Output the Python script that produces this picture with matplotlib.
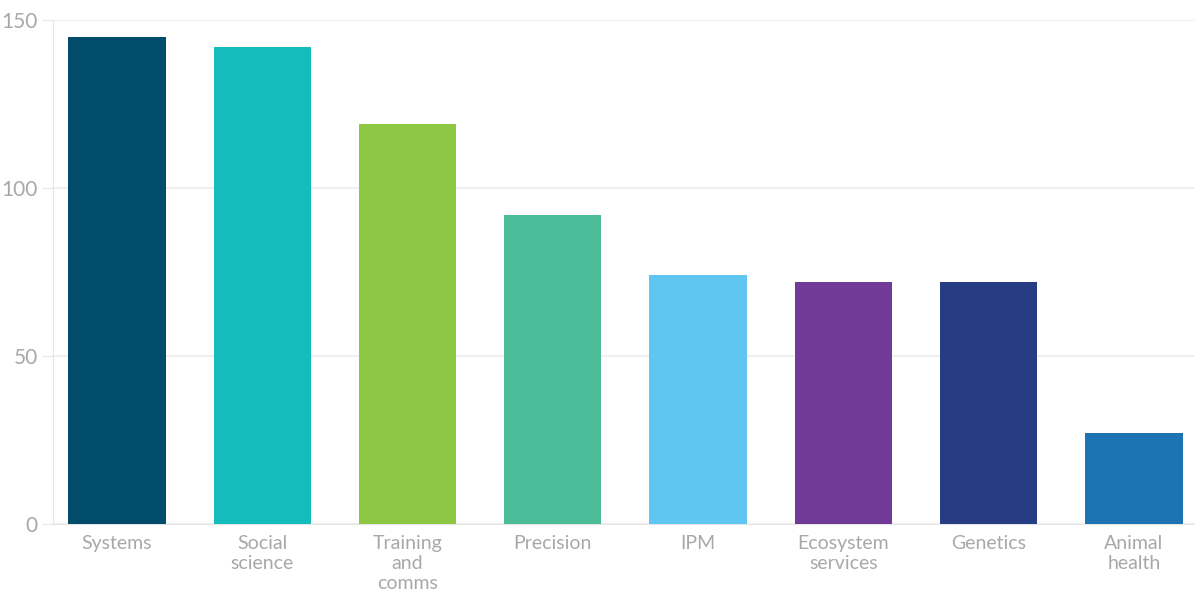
import matplotlib
matplotlib.use("Agg")
import matplotlib.pyplot as plt

categories = ["Systems", "Social\nscience", "Training\nand\ncomms", "Precision", "IPM",
              "Ecosystem\nservices", "Genetics", "Animal\nhealth"]
values = [145, 142, 119, 92, 74, 72, 72, 27]
colors = ["#014b6b", "#14bcbc", "#8dc743", "#4cbb97", "#5fc6f1", "#703a96", "#263d83", "#1e73b2"]
yticks = [0, 50, 100, 150]

fig = plt.figure(figsize=(11.95, 5.95), dpi=100)
ax = fig.add_axes([53/1195, 1 - 524/595, (1195-53)/1195, (524-20)/595])

x = list(range(len(categories)))
ax.bar(x, values, width=0.67, color=colors, zorder=3)
ax.set_xlim(-0.44, 7.42)
ax.set_ylim(0, 150)
ax.set_yticks(yticks)
ax.yaxis.grid(True, color="#ececec", linewidth=1.2, zorder=0)
for s in ["top", "right"]:
    ax.spines[s].set_visible(False)
ax.spines["left"].set_color("#e6e6e6")
ax.spines["bottom"].set_color("#e6e6e6")
ax.tick_params(axis="y", length=8, color="#e6e6e6", labelcolor="#a8a8a8", labelsize=15, pad=3)
ax.tick_params(axis="x", length=0, labelcolor="#a8a8a8", labelsize=14, pad=8)
ax.set_xticks(x)
ax.set_xticklabels(categories, linespacing=1.2)
for lbl in ax.get_xticklabels() + ax.get_yticklabels():
    lbl.set_fontfamily(["Lato", "DejaVu Sans"])

fig.savefig("out.png", dpi=100)
